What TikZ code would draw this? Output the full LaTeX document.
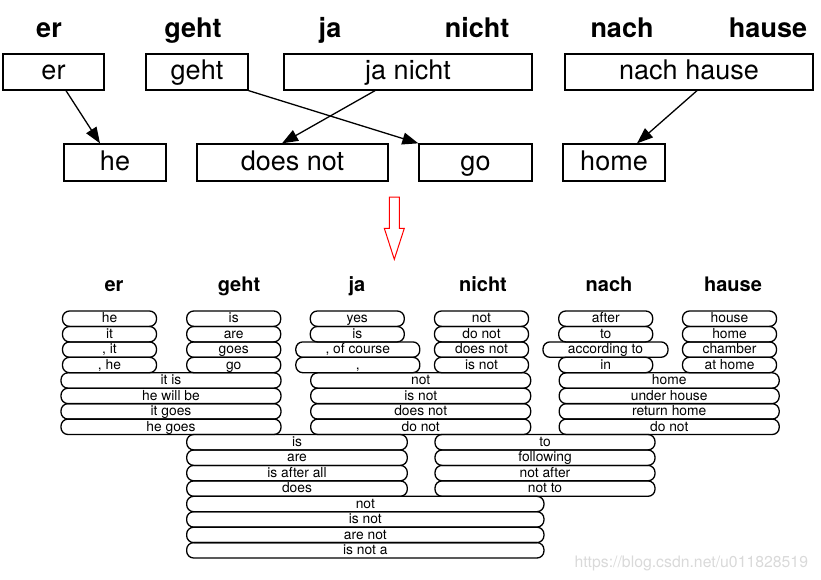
\documentclass[tikz,border=0pt]{standalone}
\usepackage{fontspec}
\setmainfont{TeX Gyre Heros}
\usetikzlibrary{arrows.meta}

\begin{document}
\begin{tikzpicture}[->,>={Triangle[length=16pt,width=12pt]},x=1pt,y=-1pt,line width=1.3pt,
    wordbox/.style={draw,-,inner sep=0pt,minimum height=36pt,minimum width=#1pt,text height=20pt,text depth=4pt,font=\fontsize{27}{30}\selectfont},
    pill/.style={draw,-,line width=1.3pt,rounded corners=7pt,inner sep=0pt,minimum height=15.4pt,minimum width=#1pt,text height=10.5pt,text depth=2pt,font=\fontsize{13.8}{15}\selectfont},
    bighead/.style={anchor=base,font=\fontsize{27}{30}\selectfont\bfseries},
    smallhead/.style={anchor=base,font=\fontsize{20}{24}\selectfont\bfseries}]
            \useasboundingbox (0,0) rectangle (821,580);

            \def\ya{318.7} \def\yb{334.2} \def\yc{349.6} \def\yd{365.0}
            \def\ye{380.5} \def\yf{395.9} \def\yg{411.4} \def\yh{426.8}
            \def\yi{442.2} \def\yj{457.7} \def\yk{473.1} \def\yl{488.6}
            \def\ym{504.0} \def\yn{519.4} \def\yo{534.9} \def\yp{550.3}

            \node[bighead] (hEr) at (49,38) {er};
            \node[bighead] (hGeht) at (193,38) {geht};
            \node[bighead] (hJa) at (330,38) {ja};
            \node[bighead] (hNicht) at (477,38) {nicht};
            \node[bighead] (hNach) at (622,38) {nach};
            \node[bighead] (hHause) at (768,38) {hause};

            \node[wordbox=101] (er) at (53.5,72) {er};
            \node[wordbox=102] (geht) at (197,72) {geht};
            \node[wordbox=248] (janicht) at (408,72) {ja nicht};
            \node[wordbox=248] (nachhause) at (689,72) {nach hause};

            \node[wordbox=102,minimum height=37pt] (he) at (115,162.5) {he};
            \node[wordbox=191,minimum height=37pt] (doesnot) at (292.5,162.5) {does not};
            \node[wordbox=113,minimum height=37pt] (go) at (475.5,162.5) {go};
            \node[wordbox=102,minimum height=37pt] (home) at (614,162.5) {home};

            \draw ([xshift=12.5pt]er.south) -- ([xshift=-15pt]he.north);
            \draw (geht.south east) -- (go.north west);
            \draw ([xshift=-33pt]janicht.south) -- ([xshift=-10.5pt]doesnot.north);
            \draw ([xshift=8pt]nachhause.south) -- ([xshift=23pt]home.north);

            \draw[-,red,line width=1pt] (389.3,197) -- (399.3,197) -- (399.3,228.3) -- (404.3,228.3) -- (394.3,259.3) -- (384.3,228.3) -- (389.3,228.3) -- cycle;

            \node[smallhead] (lEr) at (114,291.5) {er};
            \node[smallhead] (lGeht) at (239,291.5) {geht};
            \node[smallhead] (lJa) at (357,291.5) {ja};
            \node[smallhead] (lNicht) at (483,291.5) {nicht};
            \node[smallhead] (lNach) at (609,291.5) {nach};
            \node[smallhead] (lHause) at (733,291.5) {hause};

            \node[pill=94] (er1) at (109.5,\ya) {he};
            \node[pill=94] (er2) at (109.5,\yb) {it};
            \node[pill=94] (er3) at (109.5,\yc) {, it};
            \node[pill=94] (er4) at (109.5,\yd) {, he};

            \node[pill=94] (geht1) at (233.7,\ya) {is};
            \node[pill=94] (geht2) at (233.7,\yb) {are};
            \node[pill=94] (geht3) at (233.7,\yc) {goes};
            \node[pill=94] (geht4) at (233.7,\yd) {go};

            \node[pill=94] (ja1) at (357.3,\ya) {yes};
            \node[pill=94] (ja2) at (357.3,\yb) {is};
            \node[pill=124] (ja3) at (357.8,\yc) {, of course};
            \node[pill=124] (ja4) at (357.8,\yd) {,};

            \node[pill=94] (nicht1) at (481.5,\ya) {not};
            \node[pill=94] (nicht2) at (481.5,\yb) {do not};
            \node[pill=94] (nicht3) at (481.5,\yc) {does not};
            \node[pill=94] (nicht4) at (481.5,\yd) {is not};

            \node[pill=94] (nach1) at (605.7,\ya) {after};
            \node[pill=94] (nach2) at (605.7,\yb) {to};
            \node[pill=125] (nach3) at (605.5,\yc) {according to};
            \node[pill=94] (nach4) at (605.7,\yd) {in};

            \node[pill=94] (hause1) at (729.5,\ya) {house};
            \node[pill=94] (hause2) at (729.5,\yb) {home};
            \node[pill=94] (hause3) at (729.5,\yc) {chamber};
            \node[pill=94] (hause4) at (729.5,\yd) {at home};

            \node[pill=220] (ergeht1) at (171,\ye) {it is};
            \node[pill=220] (ergeht2) at (171,\yf) {he will be};
            \node[pill=220] (ergeht3) at (171,\yg) {it goes};
            \node[pill=220] (ergeht4) at (171,\yh) {he goes};

            \node[pill=220] (janicht1) at (420.7,\ye) {not};
            \node[pill=220] (janicht2) at (420.7,\yf) {is not};
            \node[pill=220] (janicht3) at (420.7,\yg) {does not};
            \node[pill=220] (janicht4) at (420.7,\yh) {do not};

            \node[pill=220] (nachhause1) at (669.2,\ye) {home};
            \node[pill=220] (nachhause2) at (669.2,\yf) {under house};
            \node[pill=220] (nachhause3) at (669.2,\yg) {return home};
            \node[pill=220] (nachhause4) at (669.2,\yh) {do not};

            \node[pill=220.6] (gehtja1) at (297,\yi) {is};
            \node[pill=220.6] (gehtja2) at (297,\yj) {are};
            \node[pill=220.6] (gehtja3) at (297,\yk) {is after all};
            \node[pill=220.6] (gehtja4) at (297,\yl) {does};

            \node[pill=220] (nichtnach1) at (545,\yi) {to};
            \node[pill=220] (nichtnach2) at (545,\yj) {following};
            \node[pill=220] (nichtnach3) at (545,\yk) {not after};
            \node[pill=220] (nichtnach4) at (545,\yl) {not to};

            \node[pill=357.3] (gehtnach1) at (365.3,\ym) {not};
            \node[pill=357.3] (gehtnach2) at (365.3,\yn) {is not};
            \node[pill=357.3] (gehtnach3) at (365.3,\yo) {are not};
            \node[pill=357.3] (gehtnach4) at (365.3,\yp) {is not a};

            \node[anchor=base east,text=black!15,font=\fontsize{15.8}{18}\selectfont] (watermark) at (812,567) {https://blog.csdn.net/u011828519};

        \end{tikzpicture}
\end{document}
